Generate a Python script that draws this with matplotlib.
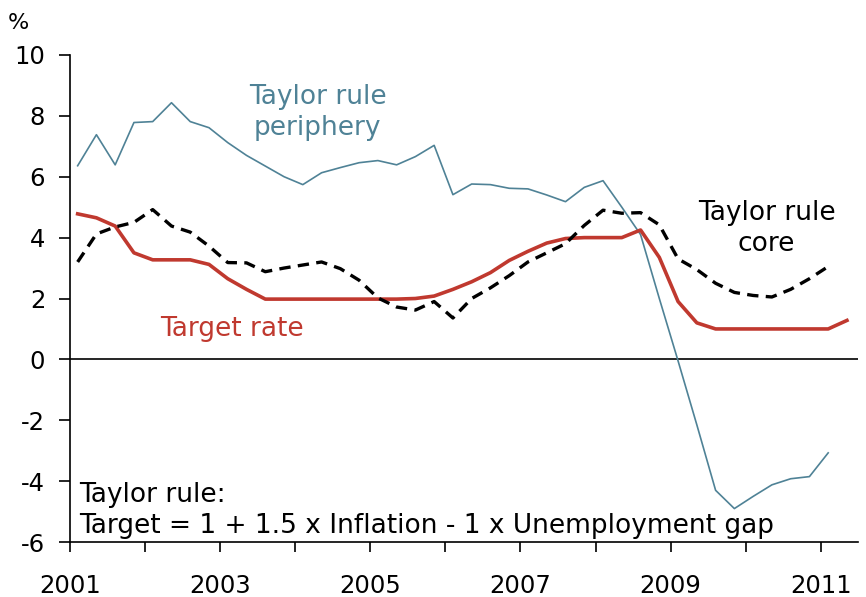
import numpy as np
import matplotlib
matplotlib.use("Agg")
import matplotlib.pyplot as plt

# quarterly observations, first one in 2001 Q1
start_year = 2001.1
periphery = [6.36, 7.38, 6.39, 7.78, 7.81, 8.43, 7.81, 7.61, 7.12, 6.7, 6.35, 6.0,
             5.74, 6.13, 6.3, 6.46, 6.53, 6.39, 6.66, 7.03, 5.41, 5.76, 5.74, 5.62,
             5.6, 5.4, 5.18, 5.65, 5.87, 5.0, 4.1, 2.0, -0.05, -2.15, -4.3, -4.9,
             -4.5, -4.12, -3.92, -3.85, -3.07]
core = [3.2, 4.12, 4.35, 4.5, 4.92, 4.38, 4.18, 3.72, 3.18, 3.17, 2.88, 3.0,
        3.1, 3.2, 2.98, 2.6, 2.02, 1.72, 1.62, 1.9, 1.36, 2.0, 2.35, 2.75,
        3.2, 3.5, 3.8, 4.4, 4.9, 4.8, 4.82, 4.42, 3.3, 2.95, 2.5, 2.2,
        2.1, 2.05, 2.3, 2.65, 3.05]
target = [4.78, 4.65, 4.38, 3.5, 3.27, 3.27, 3.27, 3.12, 2.65, 2.3, 1.98, 1.98,
          1.98, 1.98, 1.98, 1.98, 1.98, 1.98, 2.0, 2.08, 2.3, 2.55, 2.85, 3.25,
          3.55, 3.82, 3.97, 4.0, 4.0, 4.0, 4.25, 3.35, 1.9, 1.2, 1.0, 1.0,
          1.0, 1.0, 1.0, 1.0, 1.0, 1.28]

year_ticks = list(range(2001, 2012))
year_labels = [str(y) if y % 2 == 1 else "" for y in year_ticks]
y_ticks = list(range(-6, 11, 2))

blue = "#4f8296"
red = "#c0392f"

plt.rcParams["font.family"] = ["DejaVu Sans"]
plt.rcParams["axes.unicode_minus"] = False
fig = plt.figure(figsize=(8.66, 5.97), dpi=100)
ax = fig.add_axes([0.081, 0.092, 0.91, 0.816])

x_p = start_year + 0.25 * np.arange(len(periphery))
x_c = start_year + 0.25 * np.arange(len(core))
x_t = start_year + 0.25 * np.arange(len(target))

ax.axhline(0, color="black", lw=1.2, zorder=1)
ax.plot(x_p, periphery, color=blue, lw=1.2, zorder=2)
ax.plot(x_t, target, color=red, lw=2.6, zorder=3)
ax.plot(x_c, core, color="black", lw=2.4, dashes=(3.4, 2.2), zorder=4)

ax.set_xlim(2001, 2011.5)
ax.set_ylim(-6, 10)
ax.set_xticks(year_ticks)
ax.set_xticklabels(year_labels)
ax.set_yticks(y_ticks)

for side in ("top", "right"):
    ax.spines[side].set_visible(False)
for side in ("left", "bottom"):
    ax.spines[side].set_linewidth(1.2)

ax.tick_params(axis="x", direction="out", length=7, width=1.2, pad=16, labelsize=17.5)
ax.tick_params(axis="y", direction="out", length=8, width=1.2, pad=10, labelsize=17.5)

fs = 19
ax.text(-0.066, 1.045, "%", transform=ax.transAxes, fontsize=16, ha="center", va="bottom")
ax.text(2004.3, 8.1, "Taylor rule\nperiphery", color=blue, fontsize=fs,
        ha="center", va="center", linespacing=1.25)
ax.text(2010.28, 4.3, "Taylor rule\ncore", color="black", fontsize=fs,
        ha="center", va="center", linespacing=1.25)
ax.text(2002.2, 1.0, "Target rate", color=red, fontsize=fs, ha="left", va="center")
ax.text(2001.12, -4.95,
        "Taylor rule:\nTarget = 1 + 1.5 x Inflation - 1 x Unemployment gap",
        fontsize=fs, ha="left", va="center", linespacing=1.25)

fig.savefig("out.png", dpi=100)
